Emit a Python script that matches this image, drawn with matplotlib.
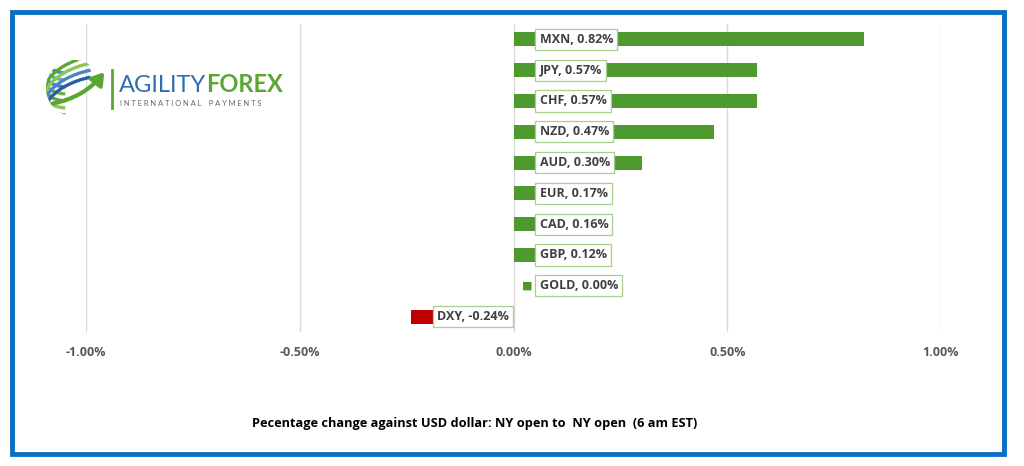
"""Bar chart: percentage change of currencies against the USD, NY open to NY open."""

import matplotlib.pyplot as plt
from matplotlib.patches import Rectangle, Arc, Circle, FancyArrowPatch

# Chart data
currencies = ["MXN", "JPY", "CHF", "NZD", "AUD", "EUR", "CAD", "GBP", "GOLD", "DXY"]
changes = [0.82, 0.57, 0.57, 0.47, 0.30, 0.17, 0.16, 0.12, 0.00, -0.24]
tick_values = [-1.0, -0.5, 0.0, 0.5, 1.0]
tick_labels = ["-1.00%", "-0.50%", "0.00%", "0.50%", "1.00%"]
caption = "Pecentage change against USD dollar: NY open to  NY open  (6 am EST)"

GREEN = "#4E9A2E"
RED = "#C00000"
BORDER_BLUE = "#0A70C4"
LABEL_EDGE = "#A9CF8F"
TEXT_GRAY = "#404040"
FONT = ["Open Sans", "DejaVu Sans"]

W, H = 1024, 466
fig = plt.figure(figsize=(W / 100, H / 100), dpi=100)
fig.patch.set_facecolor("white")

# Blue frame round the whole picture
fig.patches.append(Rectangle((12 / W, 1 - 454 / H), 992 / W, 442 / H,
                             transform=fig.transFigure, fill=False,
                             edgecolor=BORDER_BLUE, linewidth=3.5, zorder=0))

# Main axes: x from -1 to 1 spans pixels 86..941, plot area 24..332 vertically
ax = fig.add_axes([86 / W, 1 - 332 / H, 855 / W, 308 / H])
ax.set_xlim(-1.0, 1.0)
ax.set_ylim(len(currencies) - 0.5, -0.5)

ypos = list(range(len(currencies)))
colors = [GREEN if v >= 0 else RED for v in changes]
ax.barh(ypos, changes, height=0.46, color=colors, zorder=2)

for y, name, v in zip(ypos, currencies, changes):
    label = f"{name}, {v:.2f}%"
    box = dict(boxstyle="square,pad=0.33", facecolor="white",
               edgecolor=LABEL_EDGE, linewidth=0.9)
    if v < 0:
        ax.annotate(label, xy=(0, y), xytext=(-5, 0), textcoords="offset pixels",
                    ha="right", va="center", fontsize=9, fontweight="bold",
                    color=TEXT_GRAY, family=FONT, bbox=box, zorder=3)
    else:
        if v == 0:
            # legend key shown next to the zero-width bar label
            ax.annotate("\u25A0", xy=(0, y), xytext=(14, 0), textcoords="offset pixels",
                        ha="center", va="center", fontsize=8, color=GREEN,
                        family=["DejaVu Sans"], zorder=3)
        ax.annotate(label, xy=(0, y), xytext=(26, 0), textcoords="offset pixels",
                    ha="left", va="center", fontsize=9, fontweight="bold",
                    color=TEXT_GRAY, family=FONT, bbox=box, zorder=3)

ax.set_xticks(tick_values)
ax.set_xticklabels(tick_labels, fontsize=9, fontweight="bold", color="#595959",
                   family=FONT)
ax.tick_params(axis="x", length=0, pad=10)
ax.set_yticks([])
ax.grid(True, axis="x", color="#D9D9D9", linewidth=1, zorder=0)
for spine in ax.spines.values():
    spine.set_visible(False)

fig.text(475 / W, 1 - 423 / H, caption, ha="center", va="center",
         fontsize=9.2, fontweight="bold", color="black", family=FONT)

# Logo (drawn in pixel coordinates)
lg = fig.add_axes([40 / W, 1 - 125 / H, 260 / W, 85 / H])
lg.set_xlim(40, 300)
lg.set_ylim(125, 40)
lg.axis("off")
cx, cy, r = 74, 88, 28
clip = Circle((cx, cy), r, transform=lg.transData)
stripes = [(-24, "#4A88C6"), (-17, "#6AA6D6"), (-10, "#3F82C4"), (-3, "#6DB53C"),
           (4, "#5BA632"), (11, "#8CC45A"), (18, "#4A86C6"), (25, "#2A5CA6")]
for dy, col in stripes:
    a = Arc((cx + 12, cy + dy - 14), 84, 40, angle=-18, theta1=150, theta2=300,
            color=col, linewidth=2.4)
    lg.add_patch(a)
    a.set_clip_path(clip)
lg.add_patch(FancyArrowPatch((50, 104), (106, 70), connectionstyle="arc3,rad=0.2",
                             arrowstyle="-|>,head_length=7,head_width=4.5",
                             color="#5BA632", linewidth=3))
lg.plot([112, 112], [70, 108], color="#5BA632", linewidth=2)
agility = lg.text(119, 85, "AGILITY", fontsize=17, color="#2E6DB0", va="center",
                  ha="left", family=["Lato", "DejaVu Sans"])
lg.annotate("FOREX", xy=(1, 0.5), xycoords=agility, va="center", ha="left",
            fontsize=17, color="#5BA632", fontweight="bold",
            family=["Lato", "DejaVu Sans"])
lg.text(120, 104, "I N T E R N A T I O N A L    P A Y M E N T S", fontsize=5.4,
        color="#666666", va="center", ha="left", family=["Lato", "DejaVu Sans"])

fig.savefig("out.png", dpi=100)
